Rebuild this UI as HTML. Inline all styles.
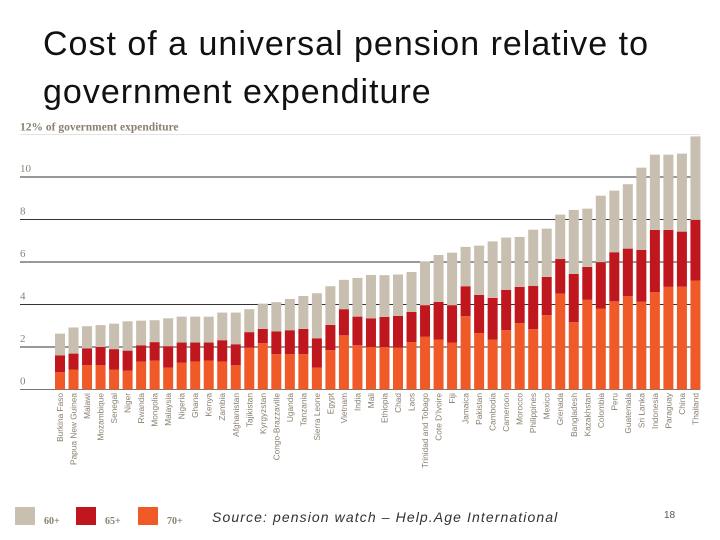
<!DOCTYPE html>
<html><head><meta charset="utf-8">
<style>
body{margin:0;width:720px;height:540px;background:#fff;overflow:hidden;position:relative;font-family:"Liberation Sans",sans-serif}
#title{position:absolute;left:43px;top:20px;font-size:34px;line-height:48px;color:#111;letter-spacing:1px}
svg{position:absolute;left:0;top:0}
</style></head><body>
<div id="title">Cost of a universal pension relative to<br>government expenditure</div>
<svg id="chart" width="720" height="540"></svg>
<script>
const countries=["Burkina Faso","Papua New Guinea","Malawi","Mozambique","Senegal","Niger","Rwanda","Mongolia","Malaysia","Nigeria","Ghana","Kenya","Zambia","Afghanistan","Tajikistan","Kyrgyzstan","Congo-Brazzaville","Uganda","Tanzania","Sierra Leone","Egypt","Vietnam","India","Mali","Ethiopia","Chad","Laos","Trinidad and Tobago","Cote D'Ivoire","Fiji","Jamaica","Pakistan","Cambodia","Cameroon","Morocco","Philippines","Mexico","Grenada","Bangladesh","Kazakhstan","Colombia","Peru","Guatemala","Sri Lanka","Indonesia","Paraguay","China","Thailand"];
const age70=[0.82,0.94,1.14,1.14,0.94,0.89,1.32,1.36,1.03,1.27,1.32,1.36,1.32,1.14,1.96,2.18,1.66,1.66,1.66,1.03,1.85,2.55,2.08,2.0,2.0,1.96,2.23,2.48,2.35,2.21,3.45,2.65,2.35,2.79,3.12,2.84,3.5,4.51,3.17,4.22,3.81,4.15,4.4,4.14,4.58,4.83,4.84,5.13];
const age65=[1.61,1.69,1.93,2.0,1.9,1.83,2.08,2.23,2.04,2.21,2.21,2.21,2.32,2.13,2.7,2.85,2.73,2.79,2.85,2.41,3.04,3.78,3.43,3.35,3.42,3.46,3.65,3.97,4.12,3.97,4.86,4.45,4.31,4.69,4.83,4.87,5.3,6.14,5.44,5.77,5.99,6.46,6.63,6.57,7.51,7.51,7.43,7.98];
const age60=[2.63,2.92,2.98,3.03,3.1,3.21,3.24,3.26,3.35,3.43,3.43,3.43,3.62,3.62,3.78,4.04,4.11,4.26,4.4,4.53,4.86,5.16,5.25,5.39,5.38,5.41,5.53,6.02,6.33,6.44,6.71,6.77,6.97,7.15,7.18,7.52,7.57,8.23,8.45,8.51,9.12,9.36,9.66,10.44,11.05,11.05,11.1,11.91];
const ticks=[0,2,4,6,8,10];
const NS="http://www.w3.org/2000/svg";
const svg=document.getElementById('chart');
const y=v=>389.5-v*21.25;
const x=i=>55+i*13.52;
function mk(t,a){const e=document.createElementNS(NS,t);for(const k in a)e.setAttribute(k,a[k]);svg.appendChild(e);return e;}
const topLine=mk('line',{x1:20,x2:700,y1:y(12),y2:y(12),stroke:'#e4e4e4','stroke-width':1});


const at=mk('text',{x:20,y:y(12)-4,'font-family':'Liberation Serif, serif','font-size':11.5,fill:'#8a8070','font-weight':'bold'});
at.textContent='12% of government expenditure';


ticks.forEach(t=>{
  const l=mk('line',{x1:20,x2:700,y1:y(t),y2:y(t),stroke:t==0?'#777':'#333','stroke-width':1});
  
  
  const tx=mk('text',{x:20,y:y(t)-5,'font-family':'Liberation Serif, serif','font-size':11,fill:'#8a8070'});
  tx.textContent=String(t);
  
  
});
countries.forEach((c,i)=>{
  const segs=[[0,age70[i],'#f05a28','70'],[age70[i],age65[i],'#c0161e','65'],[age65[i],age60[i],'#c8bfb0','60']];
  segs.forEach(s=>{
    const r=mk('rect',{x:x(i),y:y(s[1]),width:10,height:y(s[0])-y(s[1]),fill:s[2]});
    
    
  });
  const t=mk('text',{x:0,y:0,transform:`translate(${x(i)+8},393) rotate(-90)`,'text-anchor':'end','font-family':'Liberation Sans, sans-serif','font-size':8.3,fill:'#8a8070'});
  t.textContent=c;
  
  
});
[['#c8bfb0','60+',15],['#c0161e','65+',76],['#f05a28','70+',138]].forEach(l=>{
  const r=mk('rect',{x:l[2],y:507,width:20,height:18,fill:l[0]});
  
  
  const t=mk('text',{x:l[2]+29,y:524,'font-family':'Liberation Serif, serif','font-size':10,'font-weight':'bold',fill:'#8a8070'});
  t.textContent=l[1];
  
  
});
const src=mk('text',{x:212,y:522,'font-size':14,'font-style':'italic',fill:'#333','letter-spacing':1.1,'font-family':'Liberation Sans, sans-serif'});
src.textContent='Source: pension watch – Help.Age International';


const pg=mk('text',{x:664,y:518,'font-size':10,fill:'#555','font-family':'Liberation Sans, sans-serif'});
pg.textContent='18';


</script>
</body></html>
